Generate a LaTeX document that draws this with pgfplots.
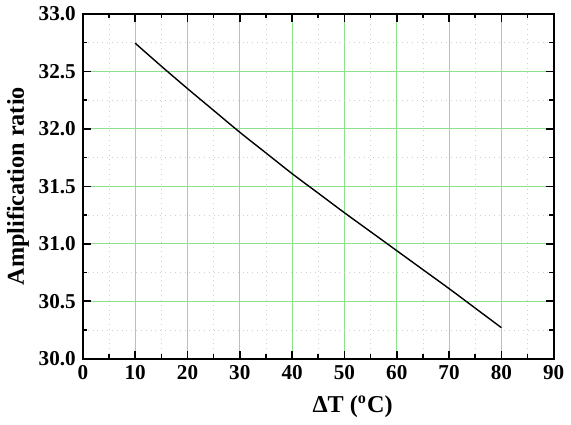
\documentclass[border=0pt]{standalone}
\usepackage{pgfplots}
\pgfplotsset{compat=1.18}
\usepackage{fontspec}
\setmainfont{Liberation Serif}
\definecolor{gridgreen}{RGB}{140,225,140}
\definecolor{minorgrid}{RGB}{200,215,200}
\begin{document}
\begin{tikzpicture}
\begin{axis}[
  scale only axis,
  width=233.5pt, height=171pt,
  xmin=0, xmax=90, ymin=30, ymax=33,
  xtick={0,10,...,90}, ytick={30,30.5,...,33},
  minor x tick num=1, minor y tick num=1,
  tick align=inside,
  major tick length=4pt, minor tick length=2.2pt,
  every tick/.style={black, line width=0.8pt},
  axis line style={line width=0.9pt},
  grid=both,
  major grid style={gridgreen, line width=0.5pt},
  minor grid style={minorgrid, dotted, line width=0.4pt},
  /pgf/number format/assume math mode=true,
  ticklabel style={font=\fontsize{10.5}{12}\selectfont\bfseries},
  yticklabel style={/pgf/number format/.cd, fixed, fixed zerofill, precision=1},
  xticklabel style={/pgf/number format/.cd, fixed, precision=0},
  xlabel={ΔT (\textsuperscript{o}C)},
  ylabel={Amplification ratio},
  label style={font=\fontsize{12}{14}\selectfont\bfseries},
  xlabel style={yshift=-1pt, xshift=17pt},
  ylabel style={yshift=-2pt},
]
\addplot[black, line width=0.7pt, smooth] coordinates {
(10,32.745) (15,32.545) (20,32.35) (25,32.16) (30,31.97) (35,31.79) (40,31.61) (45,31.44) (50,31.27) (55,31.105) (60,30.94) (65,30.775) (70,30.61) (75,30.44) (80,30.27)
};
\end{axis}
\end{tikzpicture}
\end{document}
